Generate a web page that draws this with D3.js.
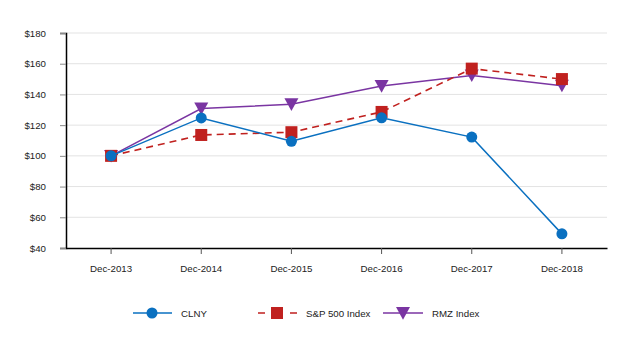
<!DOCTYPE html>
<html><head><meta charset="utf-8">
<script src="https://cdn.jsdelivr.net/npm/d3@7/dist/d3.min.js"></script>
<style>body{margin:0;background:#fff;} text{font-family:"Liberation Sans",Arial,sans-serif;}</style>
</head><body>
<svg id="c" width="640" height="350"></svg>
<script>
const categories = ["Dec-2013","Dec-2014","Dec-2015","Dec-2016","Dec-2017","Dec-2018"];
const clny = [100, 124.7, 109.5, 124.8, 112.2, 49.2];
const sp500 = [100, 113.6, 115.4, 128.6, 156.8, 150.0];
const rmz = [100, 130.8, 133.6, 145.5, 152.4, 145.7];
const yTicks = [40, 60, 80, 100, 120, 140, 160, 180];
const seriesNames = ["CLNY", "S&P 500 Index", "RMZ Index"];

const FS = 9.7;
const svg = d3.select("#c");
const x = d3.scaleBand().domain(categories).range([66, 607]);
const y = d3.scaleLinear().domain([40, 180]).range([248, 33]);
const cx = d => x(d) + x.bandwidth() / 2;

// gridlines
svg.append("g").selectAll("line").data(yTicks.slice(1)).join("line")
  .attr("x1", 66).attr("x2", 607).attr("y1", d => y(d)).attr("y2", d => y(d))
  .attr("stroke", "#e3e3e3").attr("stroke-width", 1);

// y axis
const yAxis = svg.append("g").attr("transform", "translate(66,0)")
  .call(d3.axisLeft(y).tickValues(yTicks).tickFormat(d => "$" + d).tickSize(6).tickPadding(14));
yAxis.select(".domain").attr("stroke", "#000").attr("stroke-width", 1.5);
yAxis.selectAll(".tick line").attr("stroke", "#888");
yAxis.selectAll("text").attr("font-size", FS).attr("fill", "#222").style("font-family", "'Liberation Sans',Arial,sans-serif");

// x axis
const xAxis = svg.append("g").attr("transform", "translate(0,248)")
  .call(d3.axisBottom(x).tickSize(6).tickSizeOuter(0).tickPadding(11));
xAxis.select(".domain").attr("stroke", "#000").attr("stroke-width", 1.5);
xAxis.selectAll(".tick line").attr("stroke", "#555");
xAxis.selectAll("text").attr("font-size", FS).attr("fill", "#222").style("font-family", "'Liberation Sans',Arial,sans-serif");

const colors = {clny: "#0a70c0", sp: "#c0211f", rmz: "#7a35a2"};
const line = d3.line().x((d, i) => cx(categories[i])).y(d => y(d));

const tri = (px, py, s) => `M${px - s},${py - s * 0.85}L${px + s},${py - s * 0.85}L${px},${py + s * 0.95}Z`;

// RMZ
svg.append("path").attr("d", line(rmz)).attr("fill", "none").attr("stroke", colors.rmz).attr("stroke-width", 1.5);
svg.append("g").selectAll("path").data(rmz).join("path")
  .attr("d", (d, i) => tri(cx(categories[i]), y(d), 7)).attr("fill", colors.rmz);

// S&P
svg.append("path").attr("d", line(sp500)).attr("fill", "none").attr("stroke", colors.sp).attr("stroke-width", 1.6).attr("stroke-dasharray", "7,5");
svg.append("g").selectAll("rect").data(sp500).join("rect")
  .attr("x", (d, i) => cx(categories[i]) - 6).attr("y", d => y(d) - 6)
  .attr("width", 12).attr("height", 12).attr("fill", colors.sp);

// CLNY
svg.append("path").attr("d", line(clny)).attr("fill", "none").attr("stroke", colors.clny).attr("stroke-width", 1.5);
svg.append("g").selectAll("circle").data(clny).join("circle")
  .attr("cx", (d, i) => cx(categories[i])).attr("cy", d => y(d)).attr("r", 5.5).attr("fill", colors.clny);

// legend
const ly = 313;
const lg = svg.append("g");
lg.append("line").attr("x1", 133).attr("x2", 172).attr("y1", ly).attr("y2", ly).attr("stroke", colors.clny).attr("stroke-width", 1.5);
lg.append("circle").attr("cx", 152).attr("cy", ly).attr("r", 5.5).attr("fill", colors.clny);
lg.append("text").attr("x", 181).attr("y", ly + 3.5).attr("font-size", FS).attr("fill", "#222").text(seriesNames[0]);

lg.append("line").attr("x1", 258).attr("x2", 297).attr("y1", ly).attr("y2", ly).attr("stroke", colors.sp).attr("stroke-width", 1.6).attr("stroke-dasharray", "7,25");
lg.append("rect").attr("x", 271).attr("y", ly - 6).attr("width", 12).attr("height", 12).attr("fill", colors.sp);
lg.append("text").attr("x", 306).attr("y", ly + 3.5).attr("font-size", FS).attr("fill", "#222").text(seriesNames[1]);

lg.append("line").attr("x1", 383).attr("x2", 423).attr("y1", ly).attr("y2", ly).attr("stroke", colors.rmz).attr("stroke-width", 1.5);
lg.append("path").attr("d", tri(403, ly, 7)).attr("fill", colors.rmz);
lg.append("text").attr("x", 432).attr("y", ly + 3.5).attr("font-size", FS).attr("fill", "#222").text(seriesNames[2]);
</script>
</body></html>
